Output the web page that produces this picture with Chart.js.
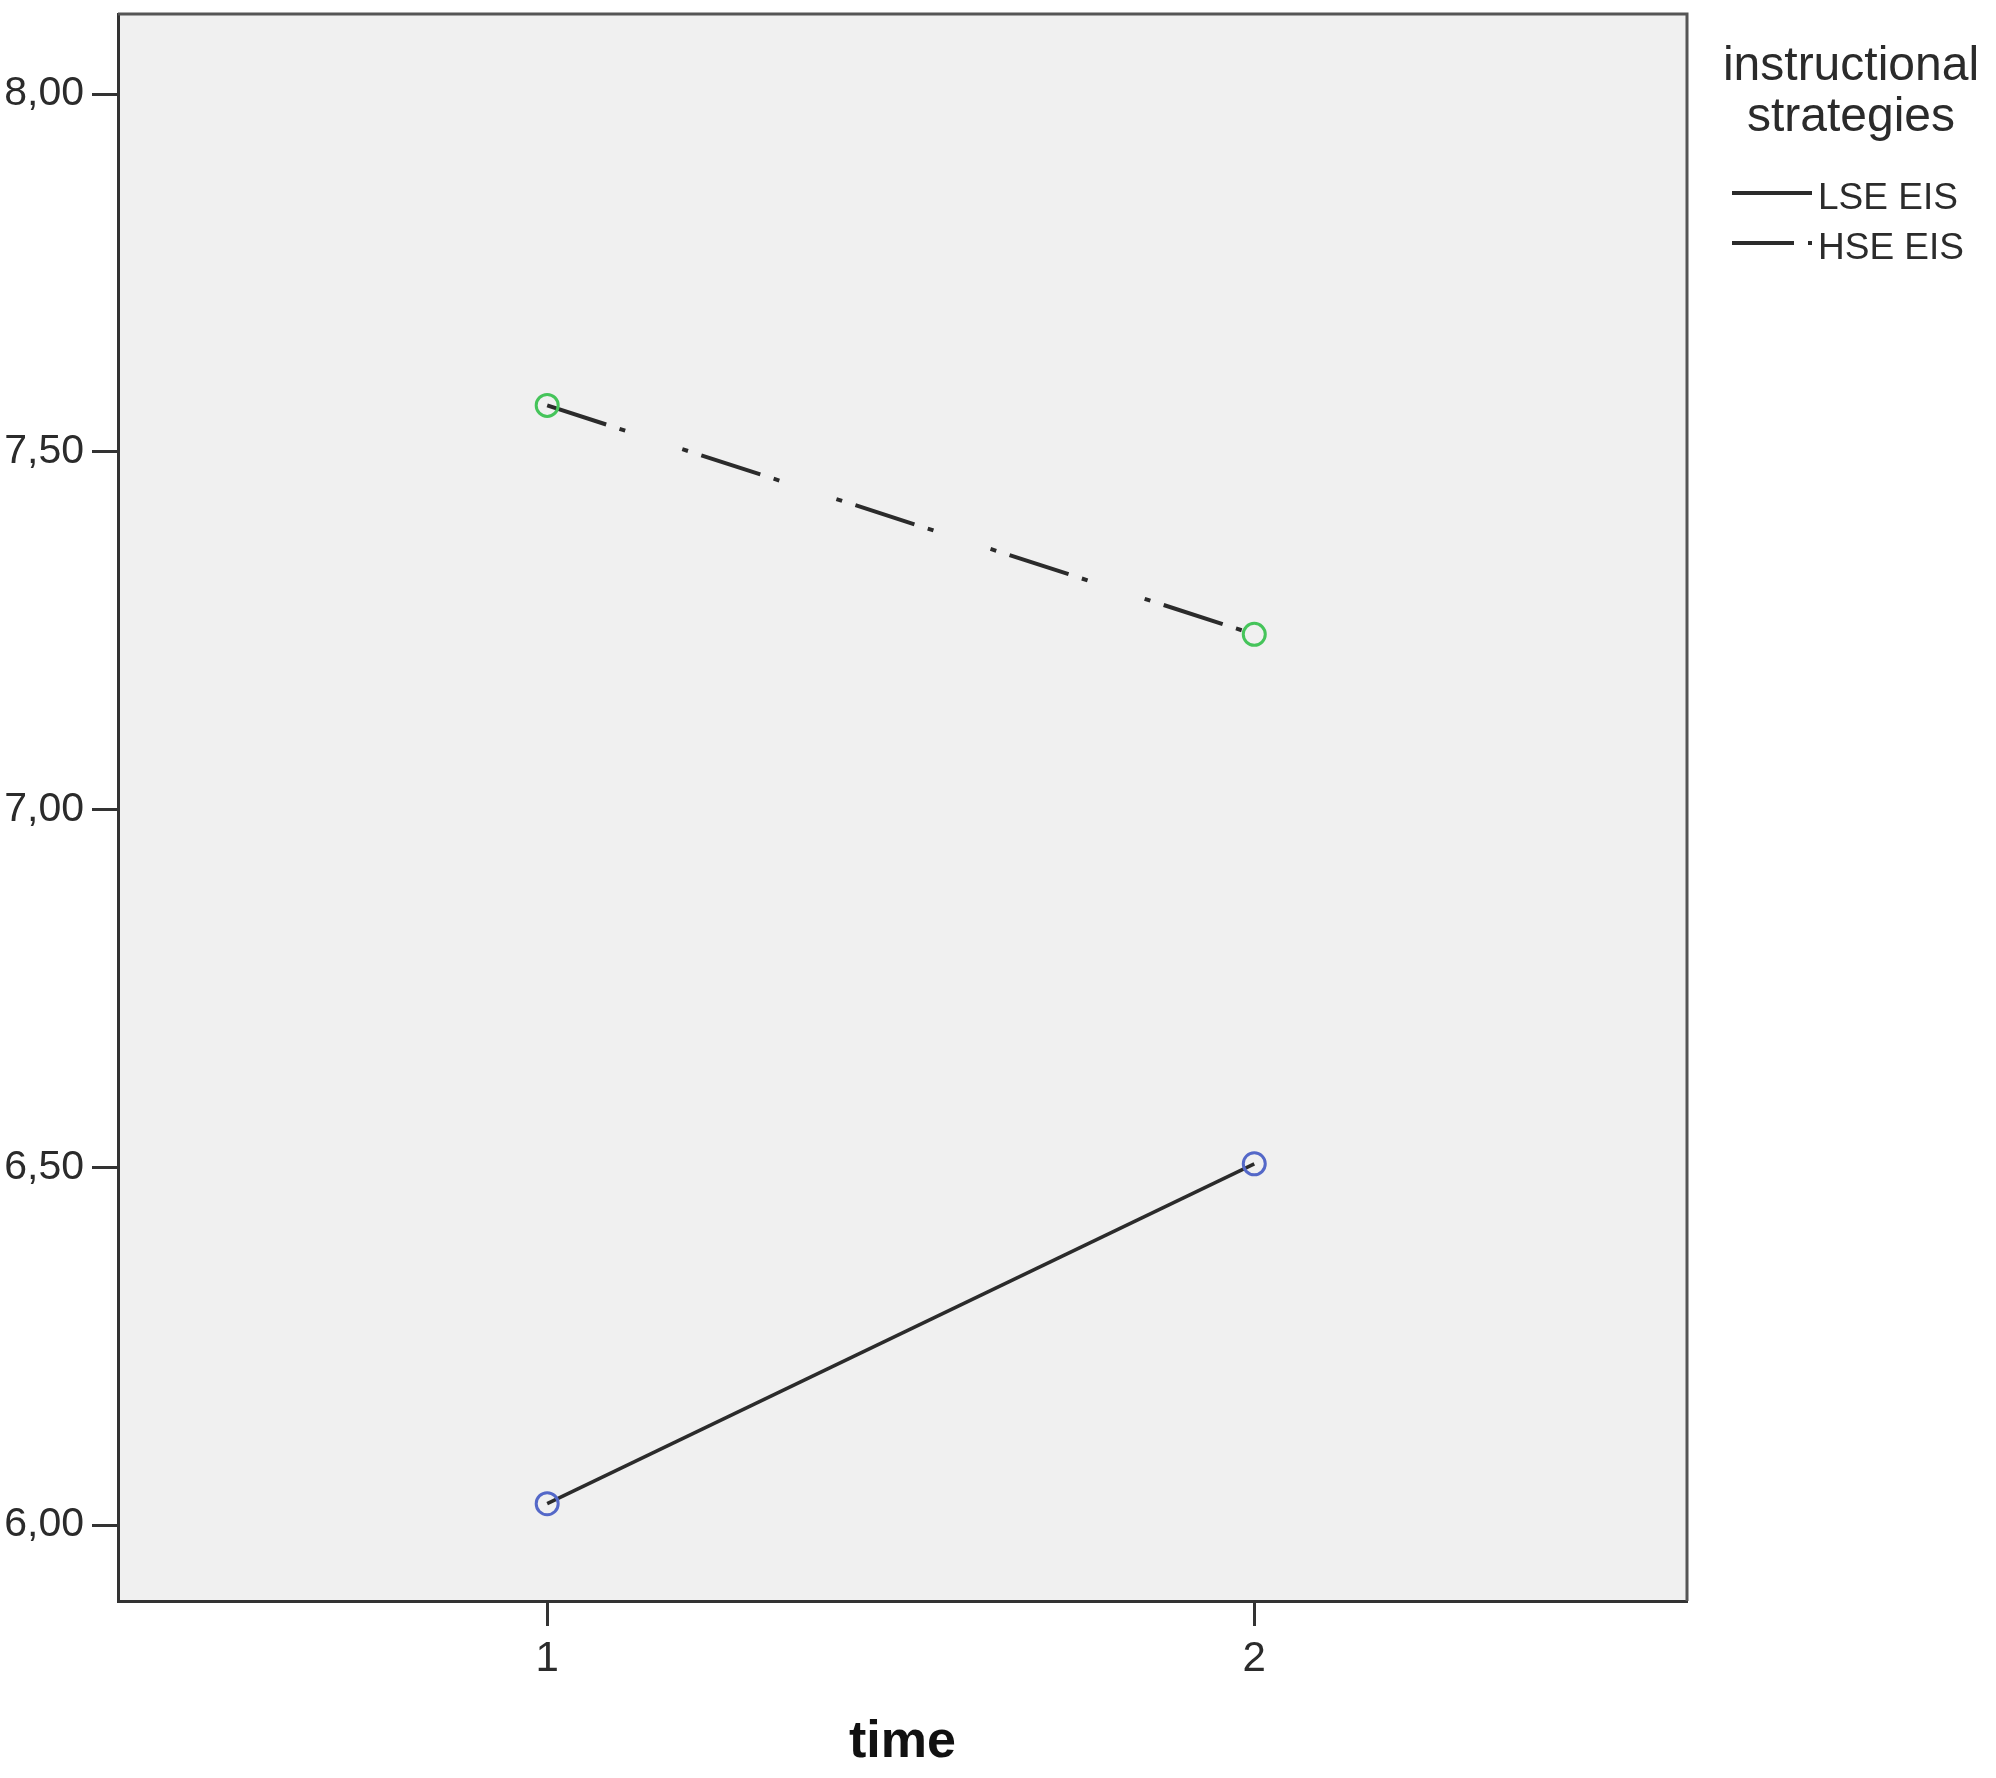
<!DOCTYPE html>
<html>
<head>
<meta charset="utf-8">
<script src="https://cdn.jsdelivr.net/npm/chart.js@4.4.1/dist/chart.umd.min.js"></script>
<style>
  html, body { margin: 0; padding: 0; background: #ffffff; }
  #wrap { width: 1996px; height: 1778px; position: relative; }
</style>
</head>
<body>
<div id="wrap"><canvas id="chart" width="1996" height="1778"></canvas></div>
<script>
// data
const times = [1, 2];
const lseValues = [6.03, 6.505];
const hseValues = [7.565, 7.245];
const seriesLabels = ['LSE EIS', 'HSE EIS'];
const legendTitle = ['instructional', 'strategies'];
const yTicks = [6.0, 6.5, 7.0, 7.5, 8.0];
const xTicks = [1, 2];

const FONT = '"Liberation Sans", Arial, sans-serif';
const lineColor = '#2b2b2b';
const hseDash = [62, 14, 6, 60, 6, 14];

// plot background and top/right frame
const frame = {
    id: 'frame',
    beforeDraw(chart) {
        const { ctx, chartArea: a } = chart;
        ctx.save();
        ctx.fillStyle = '#f0f0f0';
        ctx.fillRect(a.left, a.top, a.right - a.left, a.bottom - a.top);
        ctx.restore();
    },
    afterDraw(chart) {
        const { ctx, chartArea: a } = chart;
        ctx.save();
        ctx.strokeStyle = '#555555';
        ctx.lineWidth = 3;
        ctx.beginPath();
        ctx.moveTo(a.left, a.top);
        ctx.lineTo(a.right, a.top);
        ctx.lineTo(a.right, a.bottom);
        ctx.stroke();
        ctx.restore();
    }
};

// SPSS-like legend to the right of the plot
const sideLegend = {
    id: 'sideLegend',
    afterDraw(chart) {
        const { ctx } = chart;
        ctx.save();
        ctx.fillStyle = '#2b2b2b';
        ctx.textAlign = 'center';
        ctx.textBaseline = 'alphabetic';
        ctx.font = '48px ' + FONT;
        legendTitle.forEach((t, i) => ctx.fillText(t, 1851, 80 + i * 51));

        ctx.font = '37px ' + FONT;
        ctx.textAlign = 'left';
        ctx.textBaseline = 'middle';
        chart.data.datasets.forEach((ds, i) => {
            const y = 197 + i * 50;
            ctx.strokeStyle = lineColor;
            ctx.lineWidth = 4;
            ctx.setLineDash(ds.borderDash || []);
            ctx.beginPath();
            ctx.moveTo(1732, y - 4);
            ctx.lineTo(1812, y - 4);
            ctx.stroke();
            ctx.setLineDash([]);
            ctx.fillText(ds.label, 1818, y + 2);
        });
        ctx.restore();
    }
};

const tickFmt = v => Number(v).toFixed(2).replace('.', ',');

new Chart(document.getElementById('chart').getContext('2d'), {
    type: 'line',
    data: {
        datasets: [
            {
                label: seriesLabels[0],
                data: times.map((t, i) => ({ x: t, y: lseValues[i] })),
                borderColor: lineColor,
                borderWidth: 3.5,
                pointRadius: 11,
                pointBorderWidth: 3,
                pointBorderColor: '#5468c8',
                pointBackgroundColor: 'rgba(0,0,0,0)',
                tension: 0
            },
            {
                label: seriesLabels[1],
                data: times.map((t, i) => ({ x: t, y: hseValues[i] })),
                borderColor: lineColor,
                borderWidth: 4,
                borderDash: hseDash,
                pointRadius: 11,
                pointBorderWidth: 3,
                pointBorderColor: '#45c45a',
                pointBackgroundColor: 'rgba(0,0,0,0)',
                tension: 0
            }
        ]
    },
    options: {
        responsive: false,
        animation: false,
        layout: { padding: { left: 0, right: 309, top: 12, bottom: 0 } },
        plugins: {
            legend: { display: false },
            tooltip: { enabled: false }
        },
        scales: {
            x: {
                type: 'linear',
                min: 0.393,
                max: 2.612,
                afterBuildTicks: s => { s.ticks = xTicks.map(v => ({ value: v })); },
                afterFit: s => { s.height = 177; s.paddingLeft = 0; s.paddingRight = 0; },
                grid: {
                    drawOnChartArea: false,
                    drawTicks: true,
                    tickLength: 25,
                    tickColor: '#333333',
                    tickWidth: 3
                },
                border: { display: true, color: '#333333', width: 3 },
                ticks: {
                    color: '#2b2b2b',
                    padding: 8,
                    font: { family: FONT, size: 42 },
                    callback: v => String(v)
                },
                title: {
                    display: true,
                    text: 'time',
                    color: '#111111',
                    padding: { top: 0, bottom: 4 },
                    font: { family: FONT, size: 52, weight: 'bold' }
                }
            },
            y: {
                min: 5.894,
                max: 8.112,
                afterBuildTicks: s => { s.ticks = yTicks.map(v => ({ value: v })); },
                afterFit: s => { s.width = 118; s.paddingTop = 0; s.paddingBottom = 0; },
                grid: {
                    drawOnChartArea: false,
                    drawTicks: true,
                    tickLength: 26,
                    tickColor: '#333333',
                    tickWidth: 3
                },
                border: { display: true, color: '#333333', width: 3 },
                ticks: {
                    color: '#2b2b2b',
                    padding: 8,
                    font: { family: FONT, size: 41 },
                    callback: tickFmt
                }
            }
        }
    },
    plugins: [frame, sideLegend]
});
</script>
</body>
</html>
